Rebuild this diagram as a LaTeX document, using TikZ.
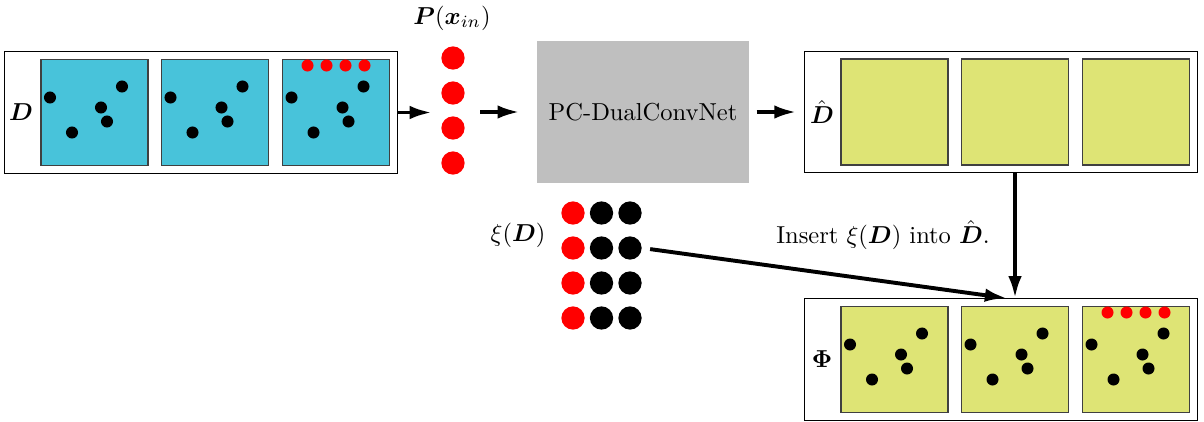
\documentclass[tikz,border=0pt]{standalone}
\usepackage{amsmath}
\usepackage{amssymb}
\usetikzlibrary{shapes,arrows.meta,positioning}

\definecolor{inblue}{RGB}{72,195,218}
\definecolor{outyellow}{RGB}{222,228,117}

\begin{document}
\begin{tikzpicture}[x=0.408pt,y=0.408pt,
  frame/.style={draw, thin, minimum width=160pt, minimum height=49.6pt, inner sep=0},
  cell/.style={draw=black!75, semithick, minimum width=43.6pt, minimum height=43.2pt, inner sep=0},
  bigdot/.style={circle, fill=black, inner sep=0, minimum size=9.5pt},
  arr/.style={line width=1.6pt, -{Latex[length=9pt,width=5.5pt]}}]
\useasboundingbox (0,0) rectangle (1204,421);

% Input D
\node[frame] (Din) at (201,308.5) {};
\node (Dlabel) at (21,309) {$\boldsymbol{D}$};
\foreach \i/\dx in {1/-106.5,2/14,3/135} {
  \node[cell, fill=inblue] (d\i) at ([xshift=\dx*0.408pt]Din.center) {};
  \foreach \px/\py in {-44.5/15,-22.5/-20,6.5/5,12.5/-9,27.5/26}
    \fill (d\i) ++(\px,\py) circle (2.45pt);
}
\foreach \k in {0,...,3}
  \fill[red] (d3) ++(-28.5+19*\k,47) circle (2.45pt);

% P(x_in)
\foreach \k/\y in {1/363,2/328,3/293,4/258}
  \node[bigdot, fill=red] (p\k) at (453,\y) {};
\node (Plabel) at (452,403) {$\boldsymbol{P}(\boldsymbol{x}_{in})$};

% Network
\node[fill=black!25, minimum width=86.5pt, minimum height=58pt] (net) at (643,309) {PC-DualConvNet};

% Output D hat
\node[frame] (Dhat) at (1001,309) {};
\node (Dhatlabel) at (822,309) {$\hat{\boldsymbol{D}}$};
\foreach \i/\dx in {1/-106.5,2/14,3/135}
  \node[cell, fill=outyellow] (h\i) at ([xshift=\dx*0.408pt]Dhat.center) {};

% Result Phi
\node[frame] (Phi) at (1001,61.5) {};
\node (Philabel) at (822,61.5) {$\boldsymbol{\Phi}$};
\foreach \i/\dx in {1/-106.5,2/14,3/135} {
  \node[cell, fill=outyellow] (f\i) at ([xshift=\dx*0.408pt]Phi.center) {};
  \foreach \px/\py in {-44.5/15,-22.5/-20,6.5/5,12.5/-9,27.5/26}
    \fill (f\i) ++(\px,\py) circle (2.45pt);
}
\foreach \k in {0,...,3}
  \fill[red] (f3) ++(-28.5+19*\k,47) circle (2.45pt);

% xi(D)
\foreach \r/\y in {1/208,2/173,3/138,4/103} {
  \node[bigdot, fill=red] (x\r a) at (573,\y) {};
  \node[bigdot] (x\r b) at (601.5,\y) {};
  \node[bigdot] (x\r c) at (630,\y) {};
}
\node (xilabel) at (518,186) {$\xi(\boldsymbol{D})$};
\node (inslabel) at (883,186) {Insert $\xi(\boldsymbol{D})$ into $\hat{\boldsymbol{D}}$.};

% Arrows
\draw[arr, shorten >=3.7pt] (Din.east) -- (Din.east -| p1.west);
\draw[arr, shorten <=6.1pt, shorten >=6.9pt] (p1.east |- net.west) -- (net.west);
\draw[arr, shorten <=2.9pt, shorten >=3.3pt] (net.east) -- (Dhat.west);
\draw[arr] (h2 |- Dhat.south) -- (h2 |- Phi.north);
\draw[arr, shorten <=3.3pt] (x2c.east) -- ([xshift=-3.3pt]h2 |- Phi.north);
\end{tikzpicture}
\end{document}
